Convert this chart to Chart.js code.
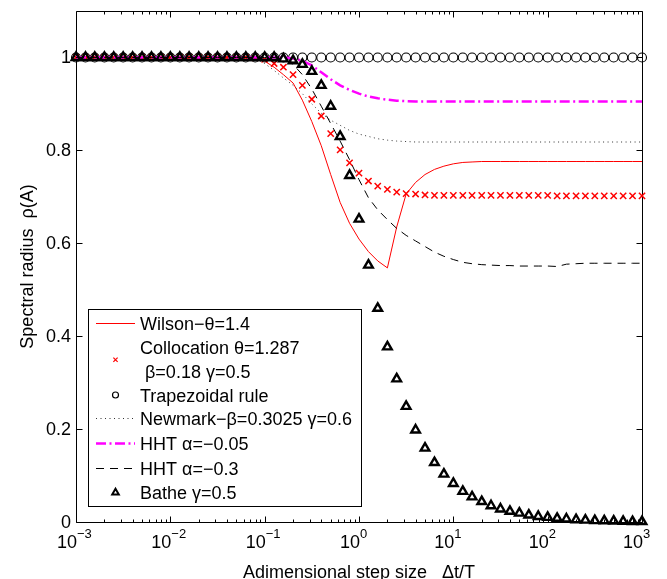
<!DOCTYPE html>
<html>
<head>
<meta charset="utf-8">
<script src="https://cdn.jsdelivr.net/npm/chart.js@4.4.0/dist/chart.umd.min.js"></script>
<style>
  html, body { margin: 0; padding: 0; background: #fff; }
  #wrap { width: 667px; height: 579px; }
</style>
</head>
<body>
<div id="wrap"><canvas id="myChart"></canvas></div>
<script>
// sample grid, 10 points per decade
const dtOverT = [
  0.001, 0.00126, 0.00158, 0.002, 0.00251, 0.00316, 0.00398, 0.00501, 0.00631, 0.00794,
  0.01, 0.0126, 0.0158, 0.02, 0.0251, 0.0316, 0.0398, 0.0501, 0.0631, 0.0794,
  0.1, 0.126, 0.158, 0.2, 0.251, 0.316, 0.398, 0.501, 0.631, 0.794,
  1, 1.26, 1.58, 2, 2.51, 3.16, 3.98, 5.01, 6.31, 7.94,
  10, 12.6, 15.8, 20, 25.1, 31.6, 39.8, 50.1, 63.1, 79.4,
  100, 126, 158, 200, 251, 316, 398, 501, 631, 794,
  1000
];

const wilson = [
  1, 1, 1, 1, 1, 1, 1, 1, 1, 1,
  1, 1, 1, 1, 1, 1, 1, 1, 1, 0.999,
  0.992, 0.979, 0.963, 0.945, 0.908, 0.862, 0.810, 0.748, 0.688, 0.643,
  0.609, 0.582, 0.562, 0.547, 0.635, 0.706, 0.731, 0.748, 0.759, 0.766,
  0.771, 0.774, 0.775, 0.776, 0.776, 0.776, 0.776, 0.776, 0.776, 0.776,
  0.776, 0.776, 0.776, 0.776, 0.776, 0.776, 0.776, 0.776, 0.776, 0.776,
  0.776
];

const collocation = [
  1, 1, 1, 1, 1, 1, 1, 1, 1, 1,
  1, 1, 1, 1, 1, 1, 1, 1, 1, 0.999,
  0.996, 0.987, 0.979, 0.963, 0.940, 0.910, 0.874, 0.836, 0.801, 0.773,
  0.751, 0.734, 0.723, 0.716, 0.710, 0.707, 0.706, 0.704, 0.703, 0.703,
  0.703, 0.703, 0.703, 0.703, 0.703, 0.703, 0.703, 0.703, 0.703, 0.703,
  0.703, 0.702, 0.702, 0.702, 0.702, 0.702, 0.702, 0.702, 0.702, 0.702,
  0.702
];

const trapezoidal = [
  1, 1, 1, 1, 1, 1, 1, 1, 1, 1,
  1, 1, 1, 1, 1, 1, 1, 1, 1, 1,
  1, 1, 1, 1, 1, 1, 1, 1, 1, 1,
  1, 1, 1, 1, 1, 1, 1, 1, 1, 1,
  1, 1, 1, 1, 1, 1, 1, 1, 1, 1,
  1, 1, 1, 1, 1, 1, 1, 1, 1, 1,
  1
];

const newmark = [
  1, 1, 1, 1, 1, 1, 1, 1, 1, 1,
  1, 1, 1, 1, 1, 1, 1, 1, 1, 0.997,
  0.987, 0.972, 0.956, 0.940, 0.922, 0.900, 0.880, 0.865, 0.854, 0.843,
  0.835, 0.830, 0.825, 0.822, 0.820, 0.819, 0.818, 0.818, 0.818, 0.818,
  0.818, 0.818, 0.818, 0.818, 0.818, 0.818, 0.818, 0.818, 0.818, 0.818,
  0.818, 0.818, 0.818, 0.818, 0.818, 0.818, 0.818, 0.818, 0.818, 0.818,
  0.818
];

const hht005 = [
  1, 1, 1, 1, 1, 1, 1, 1, 1, 1,
  1, 1, 1, 1, 1, 1, 1, 1, 1, 1,
  1, 1, 1, 0.998, 0.993, 0.983, 0.968, 0.953, 0.940, 0.930,
  0.922, 0.916, 0.912, 0.909, 0.907, 0.906, 0.905, 0.905, 0.905, 0.905,
  0.905, 0.905, 0.905, 0.905, 0.905, 0.905, 0.905, 0.905, 0.905, 0.905,
  0.905, 0.905, 0.905, 0.905, 0.905, 0.905, 0.905, 0.905, 0.905, 0.905,
  0.905
];

const hht03 = [
  1, 1, 1, 1, 1, 1, 1, 1, 1, 1,
  1, 1, 1, 1, 1, 1, 1, 1, 1, 1,
  1, 1, 0.996, 0.985, 0.963, 0.932, 0.895, 0.858, 0.820, 0.780,
  0.737, 0.698, 0.672, 0.651, 0.632, 0.617, 0.605, 0.593, 0.581, 0.572,
  0.565, 0.559, 0.556, 0.554, 0.553, 0.552, 0.552, 0.551, 0.551, 0.551,
  0.551, 0.550, 0.555, 0.556, 0.557, 0.557, 0.557, 0.557, 0.557, 0.557,
  0.557
];

const bathe = [
  1, 1, 1, 1, 1, 1, 1, 1, 1, 1,
  1, 1, 1, 1, 1, 1, 1, 1, 1, 1,
  1, 1, 0.997, 0.993, 0.985, 0.970, 0.940, 0.895, 0.830, 0.746,
  0.652, 0.553, 0.460, 0.377, 0.308, 0.249, 0.198, 0.159, 0.128, 0.103,
  0.083, 0.066, 0.054, 0.044, 0.035, 0.028, 0.023, 0.019, 0.015, 0.012,
  0.010, 0.008, 0.0065, 0.005, 0.004, 0.003, 0.0025, 0.002, 0.0015, 0.001,
  0.001
];

const seriesNames = [
  ['Wilson\u2212\u03b8=1.4'],
  ['Collocation \u03b8=1.287', ' \u03b2=0.18 \u03b3=0.5'],
  ['Trapezoidal rule'],
  ['Newmark\u2212\u03b2=0.3025 \u03b3=0.6'],
  ['HHT \u03b1=\u22120.05'],
  ['HHT \u03b1=\u22120.3'],
  ['Bathe \u03b3=0.5']
];

const yTicks = [0, 0.2, 0.4, 0.6, 0.8, 1];
const yTickLabels = ['0', '0.2', '0.4', '0.6', '0.8', '1'];
const xDecades = [-3, -2, -1, 0, 1, 2, 3];
const xExpLabels = ['\u22123', '\u22122', '\u22121', '0', '1', '2', '3'];
const xTitle = 'Adimensional step size   \u0394t/T';
const yTitle = 'Spectral radius  \u03c1(A)';

const FONT = '"Liberation Sans", Arial, Helvetica, sans-serif';

function pts(vals) {
  return dtOverT.map((x, i) => ({ x: x, y: vals[i] }));
}

const lineBase = { showLine: true, pointRadius: 0, pointHoverRadius: 0, tension: 0, fill: false, clip: false };
const markBase = { showLine: false, clip: false, pointHoverRadius: 0, backgroundColor: 'rgba(0,0,0,0)' };

const datasets = [
  Object.assign({}, lineBase, { label: seriesNames[0].join(' '), data: pts(wilson),
    borderColor: '#ff0000', borderWidth: 1, order: 6 }),
  Object.assign({}, markBase, { label: seriesNames[1].join(' '), data: pts(collocation),
    pointStyle: 'crossRot', pointRadius: 4.4, borderColor: '#ff0000', pointBorderWidth: 1.5, order: 5 }),
  Object.assign({}, markBase, { label: seriesNames[2][0], data: pts(trapezoidal),
    pointStyle: 'circle', pointRadius: 4.5, borderColor: '#000', pointBorderWidth: 1.1, order: 4 }),
  Object.assign({}, lineBase, { label: seriesNames[3][0], data: pts(newmark),
    borderColor: '#333', borderWidth: 1, borderDash: [1, 3.5], order: 3 }),
  Object.assign({}, lineBase, { label: seriesNames[4][0], data: pts(hht005),
    borderColor: '#ff00ff', borderWidth: 2.5, borderDash: [10, 3.5, 2, 3.5], order: 2 }),
  Object.assign({}, lineBase, { label: seriesNames[5][0], data: pts(hht03),
    borderColor: '#000', borderWidth: 1, borderDash: [8, 6], order: 1 }),
  Object.assign({}, markBase, { label: seriesNames[6][0], data: pts(bathe),
    pointStyle: 'triangle', pointRadius: 5, borderColor: '#000', pointBorderWidth: 2.4, order: 0 })
];

function crisp(v) { return Math.round(v) + 0.5; }

// box + inward ticks, drawn under the data like MATLAB
const axesFrame = {
  id: 'axesFrame',
  beforeDatasetsDraw(chart) {
    const ctx = chart.ctx;
    const xs = chart.scales.x, ys = chart.scales.y;
    const a = chart.chartArea;
    const L = crisp(a.left), R = crisp(a.right), T = crisp(a.top), B = crisp(a.bottom);
    ctx.save();
    ctx.strokeStyle = '#000';
    ctx.lineWidth = 1;
    ctx.beginPath();
    ctx.rect(L, T, R - L, B - T);
    // x ticks
    xDecades.forEach((k, idx) => {
      const px = crisp(xs.getPixelForValue(Math.pow(10, k)));
      ctx.moveTo(px, B); ctx.lineTo(px, B - 6);
      ctx.moveTo(px, T); ctx.lineTo(px, T + 6);
      if (idx < xDecades.length - 1) {
        for (let m = 2; m <= 9; m++) {
          const mx = crisp(xs.getPixelForValue(m * Math.pow(10, k)));
          ctx.moveTo(mx, B); ctx.lineTo(mx, B - 3);
          ctx.moveTo(mx, T); ctx.lineTo(mx, T + 3);
        }
      }
    });
    yTicks.forEach(v => {
      const py = crisp(ys.getPixelForValue(v));
      ctx.moveTo(L, py); ctx.lineTo(L + 6, py);
      ctx.moveTo(R, py); ctx.lineTo(R - 6, py);
    });
    ctx.stroke();

    ctx.fillStyle = '#000';
    // y tick labels
    ctx.font = '18px ' + FONT;
    ctx.textAlign = 'right';
    ctx.textBaseline = 'middle';
    yTicks.forEach((v, i) => {
      ctx.fillText(yTickLabels[i], a.left - 5, ys.getPixelForValue(v) + 1);
    });
    // x tick labels 10^k
    ctx.textBaseline = 'alphabetic';
    xDecades.forEach((k, i) => {
      const px = xs.getPixelForValue(Math.pow(10, k)) + 1;
      ctx.font = '18px ' + FONT;
      ctx.textAlign = 'right';
      ctx.fillText('10', px, a.bottom + 26);
      ctx.font = '13px ' + FONT;
      ctx.textAlign = 'left';
      ctx.fillText(xExpLabels[i], px, a.bottom + 16);
    });
    // axis titles
    ctx.font = '18px ' + FONT;
    ctx.textAlign = 'center';
    ctx.fillText(xTitle, (a.left + a.right) / 2, 578);
    ctx.save();
    ctx.translate(33, (a.top + a.bottom) / 2);
    ctx.rotate(-Math.PI / 2);
    ctx.fillText(yTitle, 0, 0);
    ctx.restore();
    ctx.restore();
  }
};

// legend box inside the axes
const boxLegend = {
  id: 'boxLegend',
  afterDatasetsDraw(chart) {
    const ctx = chart.ctx;
    const bx = 88.5, by = 309.5, bw = 273, bh = 197;
    const rows = [[323], [347.5, 371], [395], [418.3], [443], [468.3], [492.5]];
    const x0 = 96, x1 = 135, mx = 115.5, tx = 140;
    ctx.save();
    ctx.fillStyle = '#fff';
    ctx.fillRect(bx, by, bw, bh);
    ctx.strokeStyle = '#000';
    ctx.lineWidth = 1;
    ctx.strokeRect(bx, by, bw, bh);

    datasets.forEach((ds, i) => {
      const ys = rows[i];
      const cy = ys.length > 1 ? (ys[0] + ys[1]) / 2 + 0.5 : ys[0];
      ctx.save();
      if (ds.showLine === false) {
        const tri = ds.pointStyle === 'triangle';
        ctx.strokeStyle = ds.borderColor;
        ctx.fillStyle = 'rgba(0,0,0,0)';
        ctx.lineWidth = tri ? 2 : 1.2;
        Chart.helpers.drawPoint(ctx, {
          pointStyle: ds.pointStyle,
          radius: tri ? 3.8 : 3,
          rotation: 0,
          borderWidth: ctx.lineWidth
        }, mx, cy);
      } else {
        ctx.strokeStyle = ds.borderColor;
        ctx.lineWidth = Math.max(ds.borderWidth, 1.2);
        ctx.setLineDash(ds.borderDash || []);
        ctx.beginPath();
        ctx.moveTo(x0, Math.round(cy) + 0.5);
        ctx.lineTo(x1, Math.round(cy) + 0.5);
        ctx.stroke();
      }
      ctx.restore();

      ctx.fillStyle = '#000';
      ctx.font = '18px ' + FONT;
      ctx.textAlign = 'left';
      ctx.textBaseline = 'alphabetic';
      seriesNames[i].forEach((line, j) => {
        ctx.fillText(line, tx, ys[j] + 6.5);
      });
    });
    ctx.restore();
  }
};

new Chart(document.getElementById('myChart'), {
  type: 'scatter',
  data: { datasets: datasets },
  options: {
    responsive: true,
    maintainAspectRatio: false,
    animation: false,
    events: [],
    layout: { padding: { left: 76, right: 25, top: 11, bottom: 57 } },
    plugins: { legend: { display: false }, tooltip: { enabled: false } },
    scales: {
      x: { type: 'logarithmic', min: 0.001, max: 1000, display: false },
      y: { type: 'linear', min: 0, max: 1.1, display: false }
    }
  },
  plugins: [axesFrame, boxLegend]
});
</script>
</body>
</html>
